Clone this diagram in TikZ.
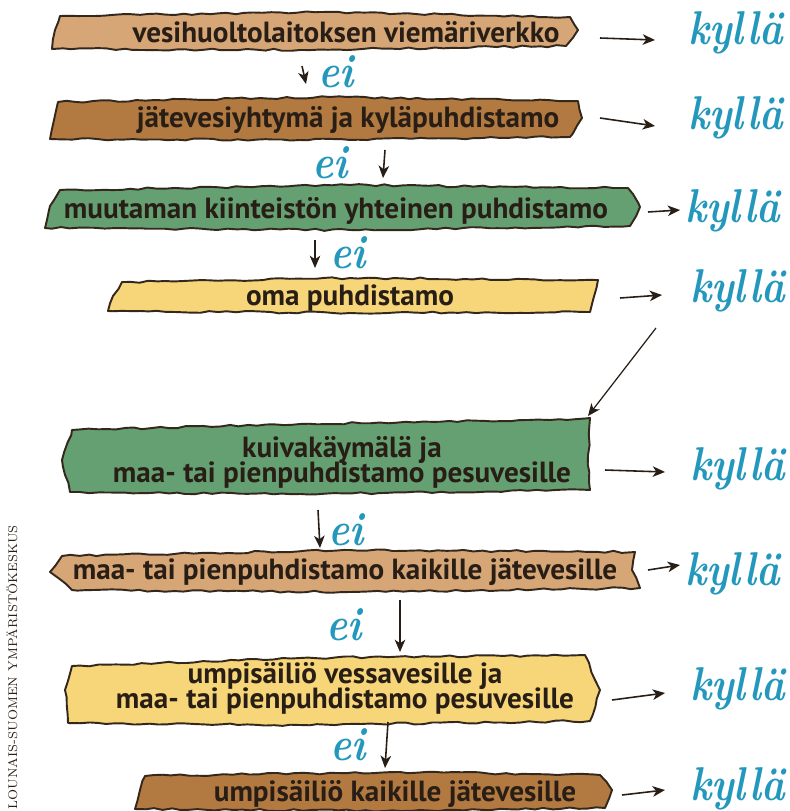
\documentclass[tikz,border=0pt]{standalone}
\usepackage{fontspec}
\newfontfamily\labelfont{PT Sans}
\usetikzlibrary{arrows.meta,decorations.pathmorphing}

\definecolor{paperTan}{RGB}{214,166,118}
\definecolor{paperBrown}{RGB}{178,122,64}
\definecolor{paperGreen}{RGB}{100,160,114}
\definecolor{paperYellow}{RGB}{247,214,122}
\definecolor{edge}{RGB}{52,40,28}
\definecolor{ink}{RGB}{40,30,22}
\definecolor{sky}{RGB}{36,152,188}

% condensed bold italic for the yes/no words
\newcommand{\answord}[1]{\scalebox{0.84}[1]{\bfseries\itshape #1}}
% strip font with close-set lines
\newcommand{\stripfont}{\labelfont\bfseries\fontsize{16.6}{14.2}\selectfont\lineskiplimit=-50pt\relax}

\tikzset{
  torn/.style={draw=edge, line width=1.1pt, line join=round,
    decorate, decoration={random steps, segment length=5pt, amplitude=0.6pt}},
  boxtext/.style={font=\stripfont, text=ink, align=center, inner sep=0pt},
  answer/.style={font=\fontsize{27}{28}\selectfont, text=sky, inner sep=0pt},
  flow/.style={-{Stealth[length=7pt,width=6pt,inset=2pt]}, line width=0.9pt, draw=ink},
  credit/.style={font=\fontsize{7.2}{9}\selectfont, text=ink, inner sep=0pt}
}

\begin{document}
\begin{tikzpicture}[x=0.02cm, y=-0.02cm]
\useasboundingbox (0,0) rectangle (790,811);
\pgfmathsetseed{11}

% torn paper strips
\path[torn, fill=paperTan]
  (60,16) -- (320,12) -- (570,17) -- (578,30) -- (566,46) -- (300,50) -- (52,49) -- (55,30) -- cycle;
\path[torn, fill=paperBrown]
  (58,102) -- (330,97) -- (578,101) -- (582,118) -- (570,137) -- (300,140) -- (50,139) -- (54,120) -- cycle;
\path[torn, fill=paperGreen]
  (60,190) -- (350,185) -- (628,188) -- (640,207) -- (630,226) -- (350,230) -- (45,228) -- (50,206) -- cycle;
\path[torn, fill=paperYellow]
  (122,282) -- (350,278) -- (598,280) -- (593,300) -- (590,312) -- (350,313) -- (108,311) -- (113,296) -- cycle;
\path[torn, fill=paperGreen]
  (72,430) -- (300,424) -- (550,420) -- (590,418) -- (588,455) -- (590,490) -- (300,494) -- (70,492) -- (62,460) -- cycle;
\path[torn, fill=paperTan]
  (62,556) -- (350,550) -- (635,552) -- (632,570) -- (640,588) -- (350,592) -- (72,590) -- (50,572) -- cycle;
\path[torn, fill=paperYellow]
  (72,666) -- (300,658) -- (585,655) -- (600,690) -- (590,721) -- (300,725) -- (68,723) -- (65,690) -- cycle;
\path[torn, fill=paperBrown]
  (145,776) -- (400,772) -- (600,775) -- (612,790) -- (605,808) -- (400,811) -- (135,809) -- (140,790) -- cycle;

% strip texts
\node[boxtext] (s1) at (346,32) {vesihuoltolaitoksen viemäriverkko};
\node[boxtext] (s2) at (348,120) {jätevesiyhtymä ja kyläpuhdistamo};
\node[boxtext] (s3) at (336,211) {muutaman kiinteistön yhteinen puhdistamo};
\node[boxtext] (s4) at (350,298) {oma puhdistamo};
\node[boxtext] (s5) at (342,462) {kuivakäymälä ja\\maa- tai pienpuhdistamo pesuvesille};
\node[boxtext] (s6) at (345,572) {maa- tai pienpuhdistamo kaikille jätevesille};
\node[boxtext] (s7) at (345,688) {umpisäiliö vessavesille ja\\maa- tai pienpuhdistamo pesuvesille};
\node[boxtext] (s8) at (395,794) {umpisäiliö kaikille jätevesille};

% "kyllä" answers
\node[answer, anchor=base west] (k1) at (688,45) {\answord{kyllä}};
\node[answer, anchor=base west] (k2) at (688,130) {\answord{kyllä}};
\node[answer, anchor=base west] (k3) at (685,222) {\answord{kyllä}};
\node[answer, anchor=base west] (k4) at (690,302) {\answord{kyllä}};
\node[answer, anchor=base west] (k5) at (690,480) {\answord{kyllä}};
\node[answer, anchor=base west] (k6) at (685,585) {\answord{kyllä}};
\node[answer, anchor=base west] (k7) at (690,700) {\answord{kyllä}};
\node[answer, anchor=base west] (k8) at (690,800) {\answord{kyllä}};

% "ei" answers
\node[answer, anchor=base west] (e1) at (318,88) {\answord{ei}};
\node[answer, anchor=base west] (e2) at (312,178) {\answord{ei}};
\node[answer, anchor=base west] (e3) at (330,268) {\answord{ei}};
\node[answer, anchor=base west] (e4) at (328,545) {\answord{ei}};
\node[answer, anchor=base west] (e5) at (326,640) {\answord{ei}};
\node[answer, anchor=base west] (e6) at (330,760) {\answord{ei}};

% arrow end points
\coordinate (r1a) at (600,38);  \coordinate (r1b) at (655,40);
\coordinate (r2a) at (600,118); \coordinate (r2b) at (655,126);
\coordinate (r3a) at (648,212); \coordinate (r3b) at (680,210);
\coordinate (r4a) at (620,298); \coordinate (r4b) at (662,295);
\coordinate (r5a) at (605,470); \coordinate (r5b) at (665,472);
\coordinate (r6a) at (648,570); \coordinate (r6b) at (680,565);
\coordinate (r7a) at (612,700); \coordinate (r7b) at (665,693);
\coordinate (r8a) at (622,795); \coordinate (r8b) at (665,790);

\coordinate (d1a) at (302,66);  \coordinate (d1b) at (306,84);
\coordinate (d2a) at (385,150); \coordinate (d2b) at (383,178);
\coordinate (d3a) at (315,240); \coordinate (d3b) at (315,268);
\coordinate (d4a) at (318,510); \coordinate (d4b) at (320,548);
\coordinate (d5a) at (400,600); \coordinate (d5b) at (400,652);
\coordinate (d6a) at (388,722); \coordinate (d6b) at (385,768);

\coordinate (jumpa) at (656,328); \coordinate (jumpb) at (588,416);

\foreach \i in {1,...,8} \draw[flow] (r\i a) -- (r\i b);
\foreach \i in {1,...,6} \draw[flow] (d\i a) -- (d\i b);
\draw[flow, line width=0.7pt] (jumpa) -- (jumpb);

% credit line
\node[credit, rotate=90, anchor=base west] (credit) at (17,810)
  {LOUNAIS-SUOMEN YMPÄRISTÖKESKUS};
\end{tikzpicture}
\end{document}
